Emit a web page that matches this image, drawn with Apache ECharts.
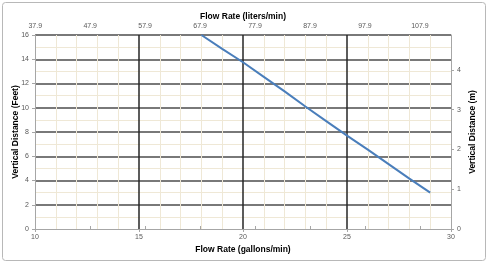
<!DOCTYPE html>
<html>
<head>
<meta charset="utf-8">
<script src="https://cdn.jsdelivr.net/npm/echarts@6/dist/echarts.min.js"></script>
<style>
  html, body { margin: 0; padding: 0; background: #fff; }
</style>
</head>
<body>
<div id="main" style="width:488px;height:264px;"></div>
<script type="text/javascript">
  // data
  var gpm = [18, 19, 20, 21, 22, 23, 24, 25, 26, 27, 28, 29];
  var feet = [16, 14.85, 13.75, 12.55, 11.35, 10.1, 8.9, 7.7, 6.55, 5.35, 4.15, 3.0];
  var literTicks = [37.9, 47.9, 57.9, 67.9, 77.9, 87.9, 97.9, 107.9];
  var meterTicks = [0, 1, 2, 3, 4];

  var L_PER_GAL = 3.78541;
  var M_PER_FT = 0.3048;

  var lineData = [];
  for (var i = 0; i < gpm.length; i++) {
    lineData.push([gpm[i], feet[i]]);
  }

  var font = "'Liberation Sans', Arial, sans-serif";
  var labelStyle = { color: '#595959', fontSize: 7, fontFamily: font };
  var titleStyle = { color: '#000', fontSize: 8.5, fontWeight: 'bold', fontFamily: font };
  var minorColor = '#efe8d6';

  var myChart = echarts.init(document.getElementById('main'));
  var option = {
    animation: false,
    backgroundColor: '#fff',
    graphic: [{
      type: 'rect',
      shape: { x: 2.5, y: 2.5, width: 483, height: 258, r: 3 },
      style: { fill: 'none', stroke: '#b8b8b8', lineWidth: 1 }
    }],
    grid: {
      left: 35,
      right: 37,
      top: 35,
      bottom: 35,
      containLabel: false,
      outerBoundsMode: 'none'
    },
    xAxis: [{
      type: 'value',
      position: 'bottom',
      min: 10,
      max: 30,
      interval: 5,
      name: 'Flow Rate (gallons/min)',
      nameLocation: 'middle',
      nameGap: 16,
      nameMoveOverlap: false,
      nameTextStyle: titleStyle,
      axisLine: { show: true, lineStyle: { color: '#a6a6a6', width: 1 } },
      axisTick: { show: true, length: 3, lineStyle: { color: '#a6a6a6' } },
      axisLabel: Object.assign({ margin: 5 }, labelStyle),
      splitLine: { show: true, showMinLine: false, showMaxLine: false, lineStyle: { color: '#262626', width: 1.5 } },
      minorTick: { show: false, splitNumber: 5 },
      minorSplitLine: { show: true, lineStyle: { color: minorColor, width: 1 } }
    }, {
      type: 'value',
      position: 'top',
      min: 10 * L_PER_GAL,
      max: 30 * L_PER_GAL,
      name: 'Flow Rate (liters/min)',
      nameLocation: 'middle',
      nameGap: 14,
      nameMoveOverlap: false,
      nameTextStyle: titleStyle,
      axisLine: { show: false },
      axisTick: { show: true, length: 3, customValues: literTicks, lineStyle: { color: '#a6a6a6' } },
      axisLabel: Object.assign({
        margin: 5,
        customValues: literTicks,
        formatter: function (v) { return v.toFixed(1); }
      }, labelStyle),
      splitLine: { show: false }
    }],
    yAxis: [{
      type: 'value',
      position: 'left',
      min: 0,
      max: 16,
      interval: 2,
      name: 'Vertical Distance (Feet)',
      nameLocation: 'middle',
      nameGap: 15,
      nameMoveOverlap: false,
      nameTextStyle: titleStyle,
      axisLine: { show: true, lineStyle: { color: '#a6a6a6', width: 1 } },
      axisTick: { show: true, length: 3, lineStyle: { color: '#a6a6a6' } },
      axisLabel: Object.assign({ margin: 6 }, labelStyle),
      splitLine: { show: true, showMinLine: false, lineStyle: { color: '#4d4d4d', width: 1.5 } },
      minorTick: { show: false, splitNumber: 2 },
      minorSplitLine: { show: true, lineStyle: { color: minorColor, width: 1 } }
    }, {
      type: 'value',
      position: 'right',
      min: 0,
      max: 16 * M_PER_FT,
      name: 'Vertical Distance (m)',
      nameLocation: 'middle',
      nameGap: 17,
      nameMoveOverlap: false,
      nameTextStyle: titleStyle,
      axisLine: { show: true, lineStyle: { color: '#a6a6a6', width: 1 } },
      axisTick: { show: true, length: 3, customValues: meterTicks, lineStyle: { color: '#a6a6a6' } },
      axisLabel: Object.assign({ margin: 6, customValues: meterTicks }, labelStyle),
      splitLine: { show: false }
    }],
    series: [{
      name: 'Flow',
      type: 'line',
      xAxisIndex: 0,
      yAxisIndex: 0,
      data: lineData,
      showSymbol: false,
      symbol: 'none',
      lineStyle: { color: '#4a7ebb', width: 2 },
      z: 5
    }]
  };
  myChart.setOption(option);
</script>
</body>
</html>
